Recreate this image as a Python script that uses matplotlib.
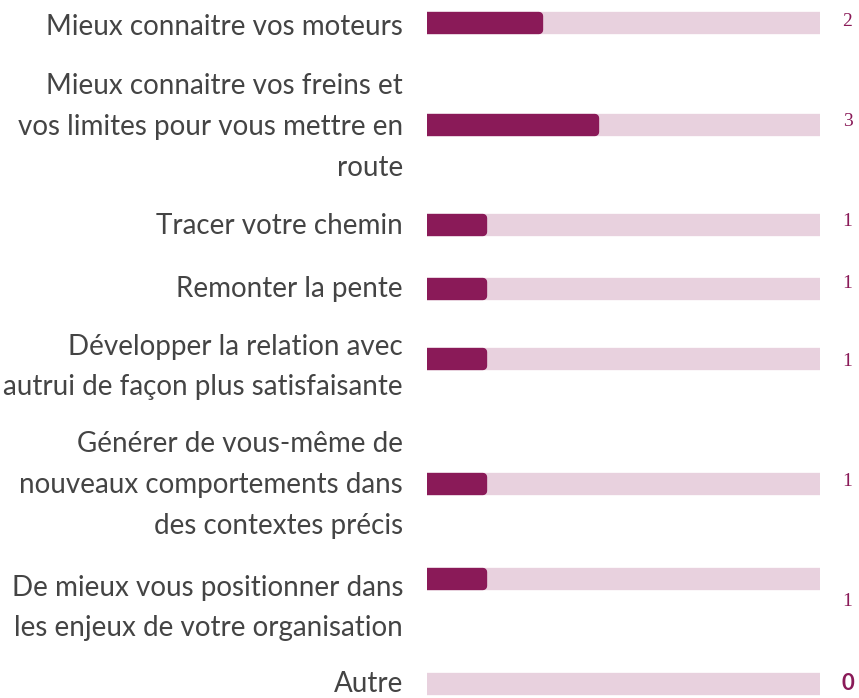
import matplotlib
matplotlib.use("Agg")
import matplotlib.pyplot as plt

# answers (label lines) and number of responses
labels = [
    "Mieux connaitre vos moteurs",
    "Mieux connaitre vos freins et\nvos limites pour vous mettre en\nroute",
    "Tracer votre chemin",
    "Remonter la pente",
    "Développer la relation avec\nautrui de façon plus satisfaisante",
    "Générer de vous-même de\nnouveaux comportements dans\ndes contextes précis",
    "De mieux vous positionner dans\nles enjeux de votre organisation",
    "Autre",
]
counts = [2, 3, 1, 1, 1, 1, 1, 0]
total = 7

# layout (pixel rows of the picture)
bar_y = [23, 125, 225, 289, 359, 484, 579, 684]
label_y = [27, 127, 226, 289, 367, 485, 608, 684]
value_y = [22, 122, 221, 283, 361, 481, 601, 684]

fill_col = "#8a1a58"
track_col = "#e8d1de"
text_col = "#444444"

W, H = 859, 698
fig = plt.figure(figsize=(W / 100, H / 100), dpi=100)
ax = fig.add_axes([427 / W, 0, (820 - 427) / W, 1])
ax.set_xlim(0, total)
ax.set_ylim(H, 0)
ax.axis("off")

bh = 14
ax.barh(bar_y, [total] * len(counts), height=bh, color=track_col,
        edgecolor=track_col, linewidth=6, joinstyle="round")
ax.barh(bar_y, counts, height=bh, color=fill_col,
        edgecolor=[fill_col if c > 0 else "none" for c in counts],
        linewidth=6, joinstyle="round")

tr = ax.get_yaxis_transform()
for lab, y in zip(labels, label_y):
    ax.text(-0.061, y, lab, transform=tr, ha="right", va="center",
            fontsize=20, family="Lato", color=text_col, linespacing=1.7)

for c, y in zip(counts, value_y):
    if c > 0:
        ax.text(1.07, y, str(c), transform=tr, ha="center", va="center",
                fontsize=14, family="Liberation Serif", color=fill_col)
    else:
        ax.text(1.07, y, str(c), transform=tr, ha="center", va="center",
                fontsize=16, family="Lato", fontweight="bold", color=fill_col)

fig.savefig("out.png", dpi=100)
